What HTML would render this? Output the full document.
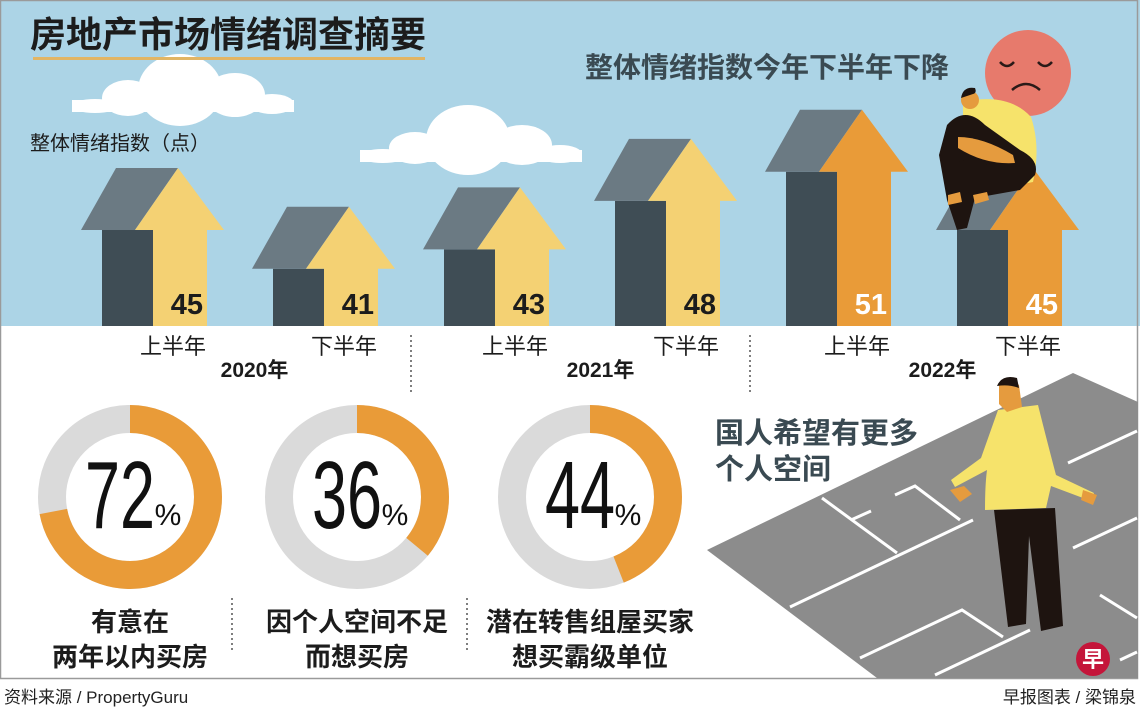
<!DOCTYPE html>
<html><head><meta charset="utf-8">
<style>
html,body{margin:0;padding:0;background:#fff;}
body{width:1140px;height:709px;overflow:hidden;font-family:"Liberation Sans","Noto Sans CJK SC",sans-serif;}
svg text{font-family:"Liberation Sans","Noto Sans CJK SC",sans-serif;}
</style></head>
<body>
<svg id="chart" width="1140" height="709" viewBox="0 0 1140 709" xmlns="http://www.w3.org/2000/svg">
  <rect x="0" y="0" width="1140" height="326" fill="#acd4e6"/>
  <rect x="0" y="326" width="1140" height="354" fill="#ffffff"/>
  <rect x="0.5" y="0.5" width="1137" height="678" fill="none" stroke="#9a9a9a" stroke-width="1.5"/>

  <!-- clouds -->
  <g fill="#ffffff">
    <ellipse cx="180" cy="90" rx="42" ry="36"/><ellipse cx="128" cy="98" rx="26" ry="18"/>
    <ellipse cx="235" cy="95" rx="30" ry="22"/><ellipse cx="272" cy="104" rx="22" ry="10"/>
    <rect x="72" y="100" width="222" height="12"/>
    <ellipse cx="95" cy="106" rx="23" ry="7"/>
  </g>
  <g fill="#ffffff">
    <ellipse cx="468" cy="140" rx="42" ry="35"/><ellipse cx="415" cy="148" rx="26" ry="16"/>
    <ellipse cx="522" cy="145" rx="30" ry="20"/><ellipse cx="560" cy="154" rx="22" ry="9"/>
    <rect x="360" y="150" width="222" height="12"/>
    <ellipse cx="383" cy="156" rx="23" ry="7"/>
  </g>

  <text x="30" y="47" font-size="36" font-weight="bold" fill="#1c1c1c">房地产市场情绪调查摘要</text>
  <rect x="33" y="57" width="392" height="3" fill="#e2b564"/>
  <text x="30" y="150" font-size="20" fill="#1c1c1c">整体情绪指数（点）</text>
  <text x="585" y="77" font-size="28" font-weight="bold" fill="#3a4a52">整体情绪指数今年下半年下降</text>

  <!-- sad face -->
  <g>
    <circle cx="1028" cy="73" r="43" fill="#e77a6c"/>
    <path d="M1000 62 q7 8 14 0 M1038 62 q7 8 14 0" stroke="#2a1a18" stroke-width="2.5" fill="none"/>
    <path d="M1012 90 q14 -12 28 0" stroke="#2a1a18" stroke-width="2.5" fill="none"/>
  </g>

  <g id="houses"></g>

  <!-- sitting person -->
  <g>
    <path d="M963 102 q45 -10 68 15 q10 30 2 65 l-40 8 q-30 -10 -30 -40 z" fill="#f6e36b"/>
    <path d="M947 125 q18 -20 38 0 l35 25 q20 10 15 25 l-15 15 l-45 8 l-8 30 l-10 2 l-10 -30 l-8 -45 z" fill="#1e1410"/>
    <path d="M958 162 l18 -5 l-6 35 l-12 5 z M985 165 l22 -8 l-8 28 l-12 2 z" fill="#1e1410"/>
    <path d="M948 195 l12 -3 l2 10 l-14 3 z M973 195 l14 -3 l2 8 l-14 4 z" fill="#e59b3e"/>
    <path d="M958 137 q25 0 55 18 l2 8 q-30 2 -57 -15 z" fill="#e59b3e"/>
    <circle cx="970" cy="100" r="9" fill="#e59b3e"/>
    <path d="M961 98 q2 -12 14 -10 q2 5 -2 6 z" fill="#1e1410"/>
  </g>

  <!-- separators -->
  <line x1="411" y1="335" x2="411" y2="395" stroke="#555" stroke-width="1.5" stroke-dasharray="2,3"/>
  <line x1="750" y1="335" x2="750" y2="395" stroke="#555" stroke-width="1.5" stroke-dasharray="2,3"/>

  <!-- floor plan -->
  <g>
    <polygon points="707,550 1073,373 1138,402 1138,678 877,678" fill="#8c8c8c"/>
    <g stroke="#ffffff" stroke-width="3" fill="none">
      <path d="M790 607 L973 520"/>
      <path d="M822 498 L897 553 M851 520 L871 511"/>
      <path d="M895 495 L915 486 L960 520"/>
      <path d="M860 658 L962 610 L1003 637"/>
      <path d="M935 675 L1030 630"/>
      <path d="M1068 463 L1137 431"/>
      <path d="M1073 548 L1137 518"/>
      <path d="M1100 595 L1137 618"/>
      <path d="M1120 660 L1137 652"/>
    </g>
  </g>
  <text x="715" y="443" font-size="29" font-weight="bold" fill="#3a4a52">国人希望有更多</text>
  <text x="715" y="479" font-size="29" font-weight="bold" fill="#3a4a52">个人空间</text>

  <!-- standing person -->
  <g>
    <path d="M998 410 l40 -5 q10 40 18 70 l38 18 l-3 8 l-40 -15 l-5 22 l-61 2 q0 -25 2 -40 l-32 17 l-4 -7 l30 -22 z" fill="#f6e36b"/>
    <path d="M994 510 l61 -2 l8 118 l-22 5 l-12 -95 l-3 88 l-18 3 z" fill="#1e1410"/>
    <path d="M950 490 l14 -4 l8 8 l-12 8 z M1083 490 l14 5 l-4 10 l-12 -5 z" fill="#e59b3e"/>
    <path d="M999 385 q10 -8 20 0 l3 22 l-15 5 l-8 -8 z" fill="#e59b3e"/>
    <path d="M997 386 q5 -12 20 -8 l2 10 q-10 -4 -22 -2 z" fill="#1e1410"/>
  </g>

  <g id="donuts"></g>

  <line x1="232" y1="598" x2="232" y2="650" stroke="#555" stroke-width="1.5" stroke-dasharray="2,3"/>
  <line x1="467" y1="598" x2="467" y2="650" stroke="#555" stroke-width="1.5" stroke-dasharray="2,3"/>

  <!-- logo -->
  <g>
    <circle cx="1093" cy="659" r="17" fill="#c4153a"/>
    <text x="1093" y="667" font-size="22" font-weight="bold" fill="#fff" text-anchor="middle">早</text>
  </g>

  <text x="4" y="703" font-size="17" fill="#222">资料来源 / PropertyGuru</text>
  <text x="1136" y="703" font-size="17" fill="#222" text-anchor="end">早报图表 / 梁锦泉</text>
</svg>
<script>
const periodLabels = ["上半年","下半年","上半年","下半年","上半年","下半年"];
const sentimentValues = [45, 41, 43, 48, 51, 45];
const yearLabels = ["2020年","2021年","2022年"];
const donutValues = [72, 36, 44];
const donutCaptionsLine1 = ["有意在","因个人空间不足","潜在转售组屋买家"];
const donutCaptionsLine2 = ["两年以内买房","而想买房","想买霸级单位"];

const NS = "http://www.w3.org/2000/svg";
function mk(tag, attrs, parent){const e=document.createElementNS(NS,tag);for(const k in attrs)e.setAttribute(k,attrs[k]);parent.appendChild(e);return e;}

// axis functions
const baseY = 326, zeroVal = 35.1, pxPerPt = 9.7;
function yScale(v){return baseY - (v - zeroVal) * pxPerPt;}
const xCenters0 = 153, groupStep = 171;
function xScale(i){return xCenters0 + i * groupStep;}

const hg = document.getElementById('houses');
sentimentValues.forEach((v,i)=>{
  const cx = xScale(i), top = yScale(v), peak = top - 62;
  const orange = i >= 4;
  const g = mk('g',{},hg);
  
  
  const dark = mk('rect',{x:cx-51,y:top,width:51,height:baseY-top,fill:'#3f4d55'},g);
  
  
  const roof = mk('polygon',{points:`${cx-72},${top} ${cx-37},${peak} ${cx+25},${peak} ${cx-18},${top}`,fill:'#6b7a83'},g);
  
  
  const col = orange ? '#e99b38' : '#f4d173';
  const arrow = mk('polygon',{points:`${cx+25},${peak} ${cx+71},${top} ${cx+54},${top} ${cx+54},${baseY} ${cx},${baseY} ${cx},${top} ${cx-18},${top}`,fill:col},g);
  
  
  const t = mk('text',{x:cx+50,y:314,'font-size':29,'font-weight':'bold','text-anchor':'end',fill:orange?'#ffffff':'#1c1c1c'},g);
  t.textContent = v;
  
  
  const pl = mk('text',{x:cx+20,y:354,'font-size':22,'text-anchor':'middle',fill:'#1c1c1c'},hg);
  pl.textContent = periodLabels[i];
  
  
});
yearLabels.forEach((y,k)=>{
  const x = (xScale(2*k) + xScale(2*k+1))/2 + 20 + (k===0?-4:0);
  const t = mk('text',{x:x,y:377,'font-size':21,'font-weight':'bold','text-anchor':'middle',fill:'#1c1c1c'},hg);
  t.textContent = y;
  
  
});

const dg = document.getElementById('donuts');
const donutX = [130, 357, 590], donutY = 497, R = 78, SW = 28;
donutValues.forEach((p,i)=>{
  const cx = donutX[i];
  const g = mk('g',{},dg);
  
  
  const bg = mk('circle',{cx:cx,cy:donutY,r:R,fill:'none',stroke:'#dadada','stroke-width':SW},g);
  
  
  const C = 2*Math.PI*R;
  const arc = mk('circle',{cx:cx,cy:donutY,r:R,fill:'none',stroke:'#e99b38','stroke-width':SW,
    'stroke-dasharray':`${C*p/100} ${C}`,transform:`rotate(-90 ${cx} ${donutY})`},g);
  
  
  const t = mk('text',{x:cx-10,y:donutY+31,'font-size':96,'text-anchor':'middle',fill:'#111','textLength':70,'lengthAdjust':'spacingAndGlyphs'},g);
  t.textContent = p;
  
  
  const pc = mk('text',{x:cx+38,y:donutY+28,'font-size':30,'text-anchor':'middle',fill:'#111'},g);
  pc.textContent = '%';
  
  
  const c1 = mk('text',{x:cx,y:631,'font-size':26,'font-weight':'bold','text-anchor':'middle',fill:'#1c1c1c'},g);
  c1.textContent = donutCaptionsLine1[i];
  
  
  const c2 = mk('text',{x:cx,y:666,'font-size':26,'font-weight':'bold','text-anchor':'middle',fill:'#1c1c1c'},g);
  c2.textContent = donutCaptionsLine2[i];
  
  
});
</script>
</body></html>
